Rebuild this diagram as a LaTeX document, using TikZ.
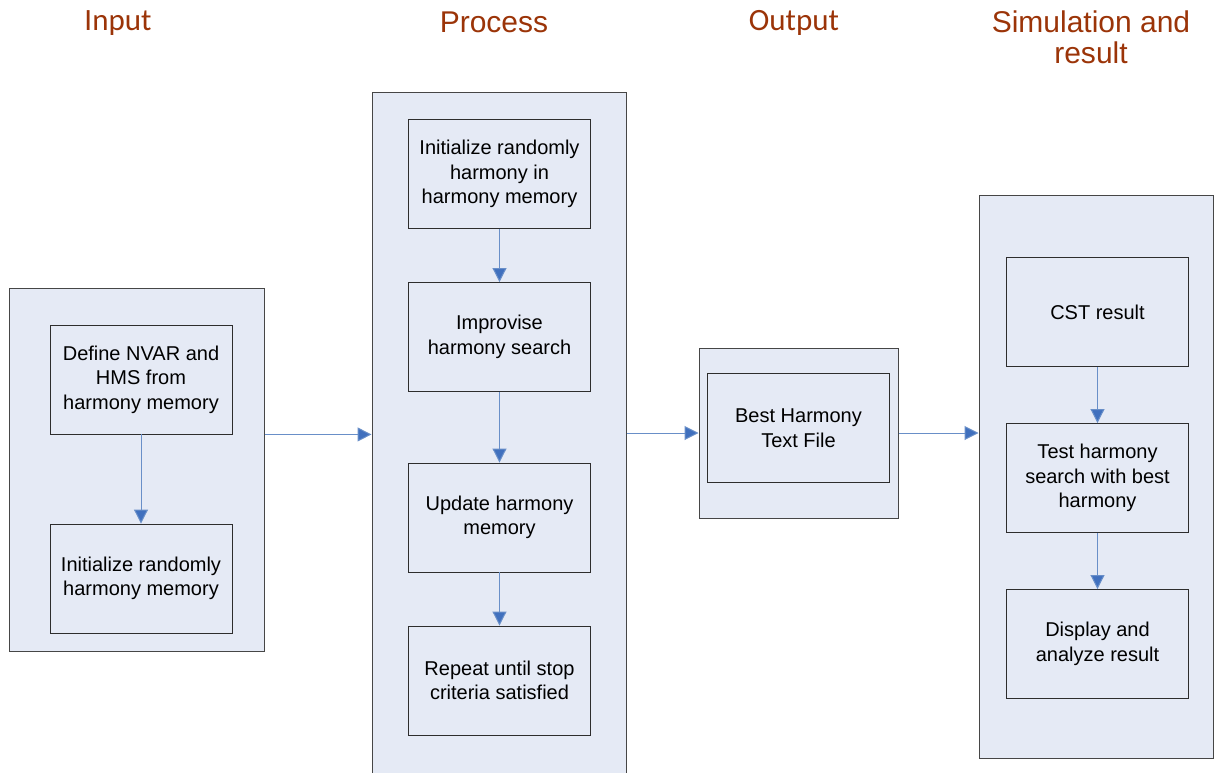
\documentclass[tikz,border=0pt]{standalone}
\usepackage{fontspec}
\setmainfont{Liberation Sans}
\newfontfamily\headcal{Carlito}
\usetikzlibrary{arrows.meta}
\definecolor{panelfill}{RGB}{229,234,245}
\definecolor{panelline}{RGB}{70,70,70}
\definecolor{boxline}{RGB}{45,45,45}
\definecolor{headcol}{RGB}{155,52,8}
\definecolor{arrline}{RGB}{105,143,200}
\definecolor{arrhead}{RGB}{64,112,190}
\tikzset{
  panel/.style={draw=panelline, fill=panelfill, line width=1bp, inner sep=0pt},
  stepbox/.style={draw=boxline, fill=panelfill, line width=0.9bp, align=center,
    minimum width=182bp, minimum height=109bp, inner sep=0pt,
    font=\fontsize{20bp}{24.5bp}\selectfont},
  flow/.style={draw=arrline, line width=1bp,
    -{Triangle[width=14bp,length=14bp,fill=arrhead]}},
  headA/.style={text=headcol, font=\headcal\fontsize{31bp}{33bp}\selectfont},
  headB/.style={text=headcol, align=center, font=\fontsize{30bp}{31bp}\selectfont},
}
\begin{document}
\begin{tikzpicture}[x=1bp,y=-1bp]
\useasboundingbox (0,0) rectangle (1216,773);
% headers
\node[headA] (hin) at (118,23) {Input};
\node[headB] (hpr) at (494,22) {Process};
\node[headA] (hout) at (794,23) {Output};
\node[headB] (hsim) at (1091,37) {Simulation and\\result};
% panels
\node[panel, minimum width=254bp, minimum height=362bp] (ipanel) at (137,470) {};
\node[panel, minimum width=254bp, minimum height=700bp] (ppanel) at (499,443) {};
\node[panel, minimum width=199bp, minimum height=170bp] (opanel) at (798.5,433) {};
\node[panel, minimum width=234bp, minimum height=562bp] (spanel) at (1096,477) {};
% input boxes
\node[stepbox] (i1) at (141,379.5) {Define NVAR and\\HMS from\\harmony memory};
\node[stepbox] (i2) at (141,578.5) {Initialize randomly\\harmony memory};
% process boxes
\node[stepbox] (p1) at (499.5,174) {Initialize randomly\\harmony in\\harmony memory};
\node[stepbox] (p2) at (499.5,337) {Improvise\\harmony search};
\node[stepbox] (p3) at (499.5,517.5) {Update harmony\\memory};
\node[stepbox] (p4) at (499.5,680.5) {Repeat until stop\\criteria satisfied};
% output box
\node[stepbox] (o1) at (798.5,428) {Best Harmony\\Text File};
% simulation boxes
\node[stepbox] (s1) at (1097.5,312) {CST result};
\node[stepbox] (s2) at (1097.5,478) {Test harmony\\search with best\\harmony};
\node[stepbox] (s3) at (1097.5,644) {Display and\\analyze result};
% arrows inside panels
\draw[flow] (i1) -- (i2);
\draw[flow] (p1) -- (p2);
\draw[flow] (p2) -- (p3);
\draw[flow] (p3) -- (p4);
\draw[flow] (s1) -- (s2);
\draw[flow] (s2) -- (s3);
% arrows between panels
\draw[flow] (ipanel.east |- i1.south) -- (ppanel.west |- i1.south);
\draw[flow] (ppanel.east |- opanel.west) -- (opanel.west);
\draw[flow] (opanel.east) -- (spanel.west |- opanel.east);
\end{tikzpicture}
\end{document}
